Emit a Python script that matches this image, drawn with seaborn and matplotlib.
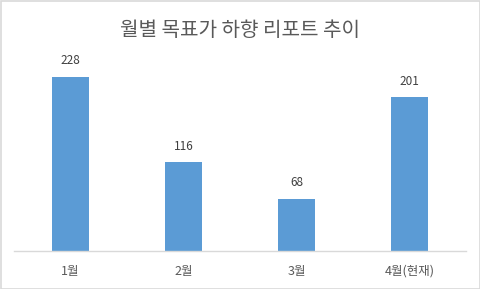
import matplotlib
matplotlib.use("Agg")
import matplotlib.pyplot as plt
import seaborn as sns
import pandas as pd
from matplotlib.patches import Rectangle

categories = ["1월", "2월", "3월", "4월(현재)"]
values = [228, 116, 68, 201]
title = "월별 목표가 하향 리포트 추이"

sns.set_theme(style="white")
plt.rcParams['font.family'] = ['Noto Sans CJK KR', 'DejaVu Sans']

df = pd.DataFrame({"month": categories, "count": values})

fig = plt.figure(figsize=(4.8, 2.89), dpi=100)
ax = fig.add_axes([14/480, 1-251/289, 452/480, (251-60)/289])
sns.barplot(data=df, x="month", y="count", color="#5B9BD5", width=0.32,
            saturation=1, linewidth=0, ax=ax)
ax.set_xlim(-0.5, 3.5)
ax.set_ylim(0, 250)
for p, v in zip(ax.patches, values):
    ax.annotate(str(v), (p.get_x() + p.get_width()/2, p.get_height()),
                xytext=(0, 7), textcoords="offset points", ha="center",
                va="bottom", fontsize=8.5, color="#404040")
ax.set_xlabel("")
ax.set_ylabel("")
ax.set_yticks([])
for s in ["top", "right", "left"]:
    ax.spines[s].set_visible(False)
ax.spines["bottom"].set_color("#D9D9D9")
ax.spines["bottom"].set_linewidth(1)
ax.tick_params(axis="x", length=0, pad=10, labelsize=9, labelcolor="#595959")

fig.text(0.5, 1-31/289, title, ha="center", va="center", fontsize=14.5, color="#595959")
fig.patches.append(Rectangle((0.5/480, 0.5/289), 479/480, 288/289, transform=fig.transFigure,
                             fill=False, edgecolor="#D9D9D9", linewidth=1.2))
fig.savefig("out.png", dpi=100)
